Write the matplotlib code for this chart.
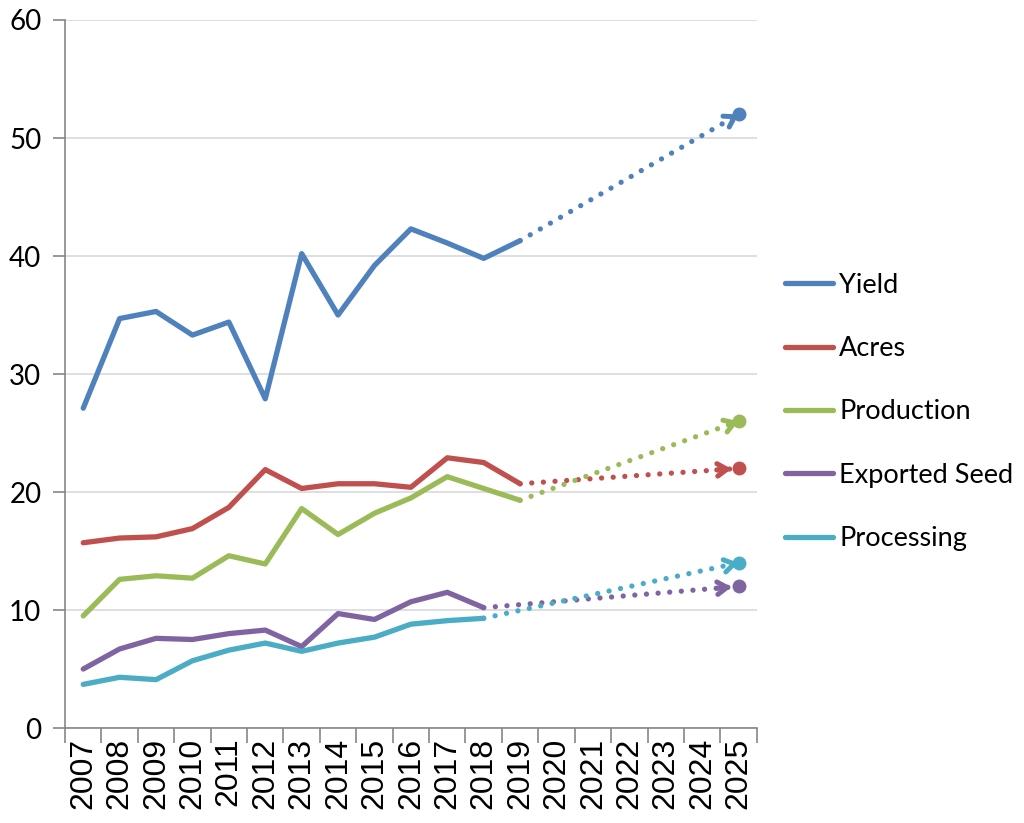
import matplotlib.pyplot as plt

# Crop outlook: history 2007-2019 and 2025 projections
years = [str(y) for y in range(2007, 2026)]

yield_vals = [27.1, 34.7, 35.3, 33.3, 34.4, 27.9, 40.2, 35.0, 39.2, 42.3, 41.1, 39.8, 41.3]
acres_vals = [15.7, 16.1, 16.2, 16.9, 18.7, 21.9, 20.3, 20.7, 20.7, 20.4, 22.9, 22.5, 20.7]
production_vals = [9.5, 12.6, 12.9, 12.7, 14.6, 13.9, 18.6, 16.4, 18.2, 19.5, 21.3, 20.3, 19.3]
exported_vals = [5.0, 6.7, 7.6, 7.5, 8.0, 8.3, 6.9, 9.7, 9.2, 10.7, 11.5, 10.2]
processing_vals = [3.7, 4.3, 4.1, 5.7, 6.6, 7.2, 6.5, 7.2, 7.7, 8.8, 9.1, 9.3]

series_names = ['Yield', 'Acres', 'Production', 'Exported Seed', 'Processing']
target_2025 = [52, 22, 26, 12, 14]
colors = ['#4F81BD', '#C0504D', '#9BBB59', '#8064A2', '#4BACC6']

narrow = ['Lato', 'DejaVu Sans']

fig = plt.figure(figsize=(10.24, 8.23), dpi=100)
ax = fig.add_axes([0.0635, 0.1154, 0.6755, 0.8603])

all_series = [yield_vals, acres_vals, production_vals, exported_vals, processing_vals]
x_end = len(years) - 1
for name, vals, target, c in zip(series_names, all_series, target_2025, colors):
    xs = list(range(len(vals)))
    ax.plot(xs, vals, color=c, lw=3.8, label=name, solid_capstyle='round',
            solid_joinstyle='round', zorder=3)
    # dotted projection out to 2025
    ax.plot([xs[-1], x_end], [vals[-1], target], color=c, lw=3.8,
            linestyle=(0, (0.01, 2.2)), dash_capstyle='round', zorder=3)
    frac = 1 - 0.6 / (x_end - xs[-1])
    ax.annotate('', xy=(x_end, target), xytext=(x_end - 0.6, vals[-1] + (target - vals[-1]) * frac),
                arrowprops=dict(arrowstyle='->,head_length=0.7,head_width=0.45', color=c, lw=3.6,
                                shrinkA=16, shrinkB=5), zorder=4)
    ax.plot([x_end], [target], 'o', color=c, ms=9, zorder=5)

ax.set_ylim(0, 60)
ax.set_xlim(-0.5, x_end + 0.5)
ax.set_yticks(range(0, 61, 10))
ax.yaxis.grid(True, color='#D9D9D9', lw=1.2)
ax.set_axisbelow(True)

ax.set_xticks([i - 0.5 for i in range(len(years) + 1)])
ax.set_xticklabels([])
ax.set_xticks(range(len(years)), minor=True)
ax.set_xticklabels(years, minor=True, rotation=90, fontsize=23, family='Liberation Sans')
ax.tick_params(axis='x', which='major', length=11, color='#868686', width=1.2)
ax.tick_params(axis='x', which='minor', length=0, pad=7)
ax.tick_params(axis='y', length=9, color='#868686', width=1.2, pad=8)
for lbl in ax.get_yticklabels():
    lbl.set_family(narrow)
    lbl.set_fontsize(20)

for side in ['top', 'right']:
    ax.spines[side].set_visible(False)
for side in ['left', 'bottom']:
    ax.spines[side].set_color('#868686')
    ax.spines[side].set_linewidth(1.2)

fig.legend(loc='center left', bbox_to_anchor=(0.753, 0.4994), frameon=False,
           prop={'family': narrow, 'size': 19.5}, handlelength=1.8, handletextpad=0.22,
           labelspacing=1.42, borderpad=0)

plt.savefig('out.png', dpi=100)
